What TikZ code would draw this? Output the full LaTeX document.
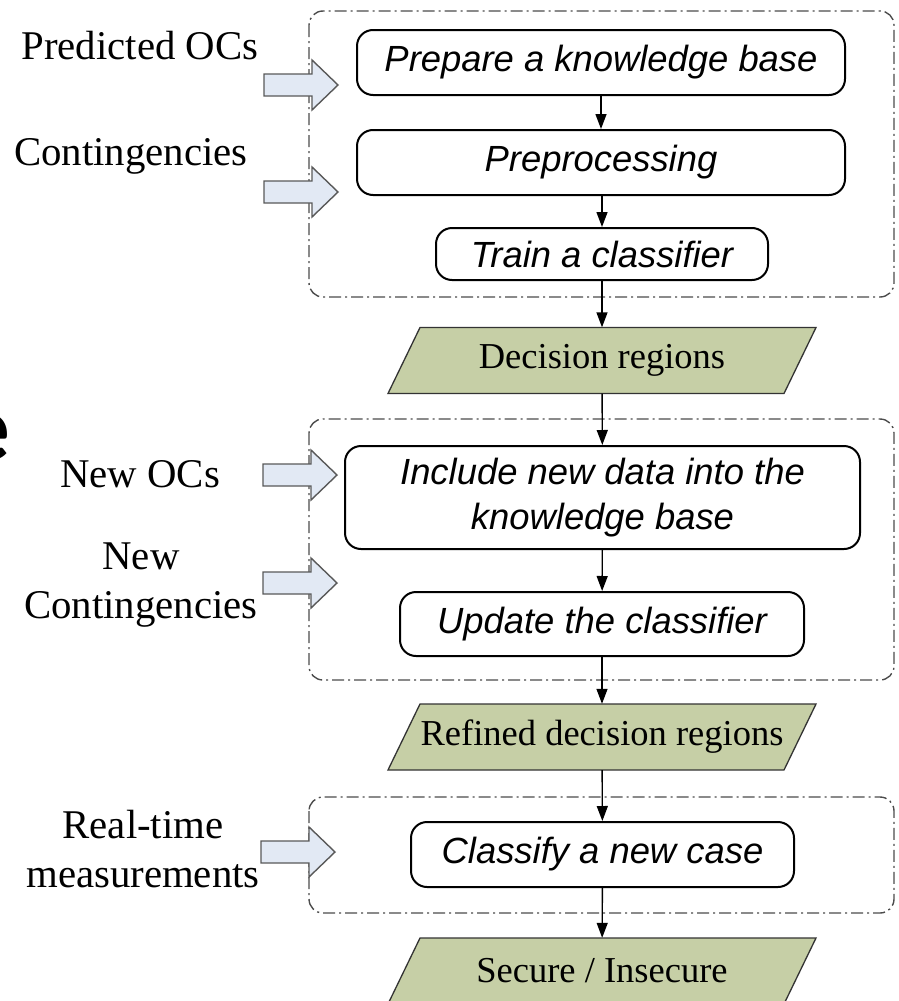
\documentclass[tikz,border=0pt]{standalone}
\usepackage{fontspec}
\setmainfont{Liberation Serif}
\newfontfamily\boxfont{Liberation Sans}
\newfontfamily\glyphfont{Carlito}
\usetikzlibrary{arrows.meta}

\definecolor{arrowblue}{HTML}{E2E9F4}
\definecolor{dataolive}{HTML}{C6CFA6}

% olive parallelogram with a named text node in its middle
\newcommand\dataitem[4]{%
  \path[dataout] (#2-182,#3-33) -- (#2+214,#3-33) -- (#2+182,#3+33) -- (#2-214,#3+33) -- cycle;
  \node[datatext] (#1) at (#2,#3) {#4};
}
% light-blue input arrow, given its tip
\newcommand\feedarrow[2]{%
  \draw[inarrow] (#1,#2) -- (#1-26,#2-25) -- (#1-26,#2-11) -- (#1-74,#2-11)
    -- (#1-74,#2+11) -- (#1-26,#2+11) -- (#1-26,#2+25) -- cycle;
}

\begin{document}
\begin{tikzpicture}[x=1pt,y=-1pt,
  stepbox/.style={draw=black, line width=2pt, rounded corners=16pt, fill=white,
    inner sep=0pt, font=\boxfont\itshape\fontsize{36.4}{45}\selectfont, align=center},
  datatext/.style={inner sep=0pt, minimum width=396pt, minimum height=66pt,
    font=\fontsize{36.5}{44}\selectfont},
  sidetext/.style={inner sep=0pt, font=\fontsize{40.8}{49}\selectfont, align=center},
  flow/.style={line width=1.4pt, -{Triangle[length=15pt,width=11pt]}},
  group/.style={draw=black!70, line width=1.4pt, rounded corners=14pt,
    dash pattern=on 12pt off 4pt on 2pt off 4pt},
  inarrow/.style={draw=black!65, fill=arrowblue, line width=1.4pt, line join=miter},
  dataout/.style={draw=black!80, fill=dataolive, line width=1.3pt}
]
\useasboundingbox (0,0) rectangle (899,1001);

% dash-dot group frames
\draw[group] (309,11) rectangle (894,297);
\draw[group] (309,419) rectangle (894,680);
\draw[group] (309,797) rectangle (894,913);

% fragment of a large glyph at the left edge
\node[anchor=base east, inner sep=0pt, font=\glyphfont\bfseries\fontsize{95}{95}\selectfont] (frag) at (11,460) {e};

% process steps
\node[stepbox, minimum width=488pt, minimum height=65pt] (prep) at (601,62.5) {Prepare a knowledge base};
\node[stepbox, minimum width=488pt, minimum height=65pt] (preproc) at (601,162.5) {Preprocessing};
\node[stepbox, minimum width=332pt, minimum height=52pt] (train) at (602,254) {Train a classifier};
\dataitem{dec}{602}{360.5}{Decision regions}
\node[stepbox, minimum width=515pt, minimum height=103pt] (include) at (602.5,497.5) {Include new data into the\\knowledge base};
\node[stepbox, minimum width=404pt, minimum height=64pt] (update) at (602,624) {Update the classifier};
\dataitem{refined}{602}{737}{Refined decision regions}
\node[stepbox, minimum width=383pt, minimum height=65pt] (classify) at (602.5,854.5) {Classify a new case};
\dataitem{secure}{602}{971}{Secure / Insecure}

% flow connectors
\draw[flow] (prep) -- (preproc);
\draw[flow] (preproc.south -| train) -- (train);
\draw[flow] (train) -- (dec);
\draw[flow] (dec) -- (include);
\draw[flow] (include) -- (update);
\draw[flow] (update) -- (refined);
\draw[flow] (refined) -- (classify);
\draw[flow] (classify) -- (secure);

% inputs
\feedarrow{338}{85}
\feedarrow{338}{192}
\feedarrow{337}{475}
\feedarrow{337}{583}
\feedarrow{335}{852}

% input labels (multi-line labels sit on the baseline of their last line)
\node[sidetext, anchor=base] (predicted) at (140,59) {Predicted OCs};
\node[sidetext, anchor=base] (contingencies) at (131,165) {Contingencies};
\node[sidetext, anchor=base] (newocs) at (140,487) {New OCs};
\node[sidetext, anchor=base] (newcont) at (141,618) {New\\Contingencies};
\node[sidetext, anchor=base] (realtime) at (143,887) {Real-time\\measurements};
\end{tikzpicture}
\end{document}
